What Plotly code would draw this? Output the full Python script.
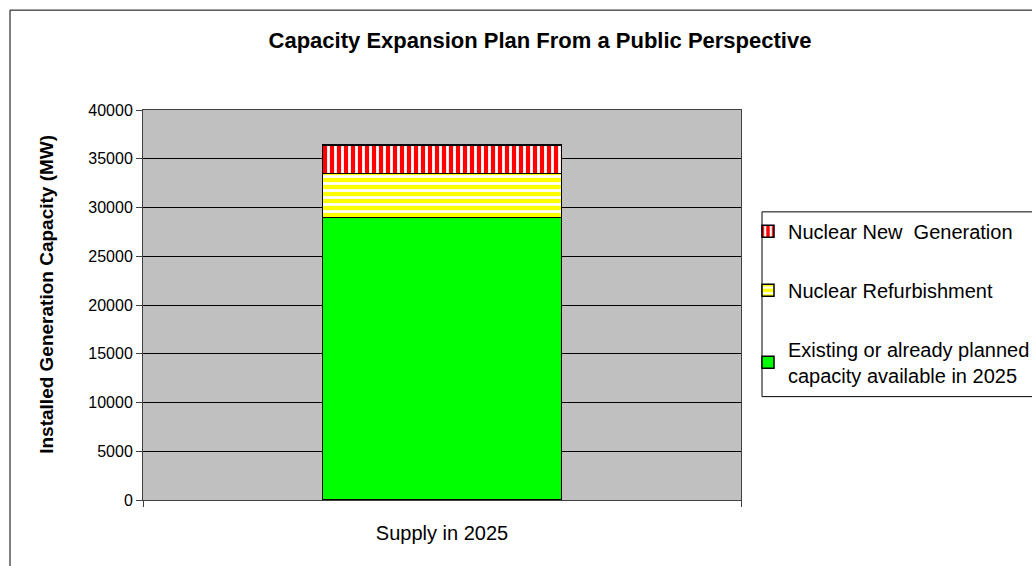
import plotly.graph_objects as go

categories = ["Supply in 2025"]
existing = [29000]
refurb = [4500]
new_gen = [2900]
series_names = ["Existing or already planned<br>capacity available in 2025",
                "Nuclear Refurbishment",
                "Nuclear New  Generation"]
y_ticks = [0, 5000, 10000, 15000, 20000, 25000, 30000, 35000, 40000]

FONT = "Liberation Sans, Arial, sans-serif"

fig = go.Figure()
fig.add_trace(go.Bar(
    x=categories, y=existing, name=series_names[0], legendgroup="a",
    legendrank=3,
    marker=dict(color="#00FF00", line=dict(color="black", width=1.5)),
    width=0.4,
))
fig.add_trace(go.Bar(
    x=categories, y=refurb, name=series_names[1], legendgroup="b",
    legendrank=2,
    marker=dict(color="#FFFF00", line=dict(color="black", width=1.5),
                pattern=dict(shape="-", fgcolor="white", bgcolor="#FFFF00",
                             size=7, solidity=0.4, fillmode="replace")),
    width=0.4,
))
fig.add_trace(go.Bar(
    x=categories, y=new_gen, name=series_names[2], legendgroup="c",
    legendrank=1,
    marker=dict(color="#FF0000", line=dict(color="black", width=1.5),
                pattern=dict(shape="|", fgcolor="white", bgcolor="#FF0000",
                             size=7, solidity=0.4, fillmode="replace")),
    width=0.4,
))

W, H = 1032, 566
L, R, T, B = 143, 741, 110, 500.5

def px_x(p):
    return (p - L) / (R - L)

def px_y(p):
    return (B - p) / (B - T)

fig.update_layout(
    width=W, height=H,
    barmode="stack",
    paper_bgcolor="white",
    plot_bgcolor="#C0C0C0",
    margin=dict(l=L, r=W - R, t=T, b=H - B, autoexpand=False),
    font=dict(family=FONT, size=16, color="black"),
    title=dict(text="<b>Capacity Expansion Plan From a Public Perspective</b>",
               x=540 / W, xref="container", xanchor="center",
               y=1 - 40 / H, yref="container", yanchor="middle",
               font=dict(family=FONT, size=22, color="black")),
    legend=dict(x=px_x(748), y=px_y(212), xanchor="left", yanchor="top",
                traceorder="grouped", tracegroupgap=30,
                bgcolor="rgba(0,0,0,0)", borderwidth=0,
                font=dict(family=FONT, size=20, color="black"),
                itemwidth=30),
    showlegend=True,
)

fig.update_xaxes(
    type="category",
    showline=True, linecolor="#404040", linewidth=1, mirror=True,
    ticks="outside", ticklen=6, tickcolor="#404040", tickson="boundaries",
    showgrid=False,
    ticklabelstandoff=15,
    tickfont=dict(family=FONT, size=20),
)
fig.update_yaxes(
    range=[0, 40000],
    tickvals=y_ticks,
    ticktext=[str(v) for v in y_ticks],
    showline=True, linecolor="#404040", linewidth=1, mirror=True,
    ticks="outside", ticklen=6, tickcolor="#404040",
    showgrid=True, gridcolor="black", gridwidth=1,
    zeroline=False,
    tickfont=dict(family=FONT, size=16),
)

# y-axis title
fig.add_annotation(text="<b>Installed Generation Capacity (MW)</b>",
                   xref="paper", yref="paper", x=px_x(47), y=px_y(295),
                   xanchor="center", yanchor="middle", textangle=-90,
                   showarrow=False, font=dict(family=FONT, size=19, color="black"))

# legend frame
fig.add_shape(type="rect", xref="paper", yref="paper",
              x0=px_x(762), x1=px_x(W + 20), y0=px_y(397), y1=px_y(212),
              line=dict(color="black", width=1), fillcolor="white",
              layer="below")

# outer chart frame
fig.add_shape(type="rect", xref="paper", yref="paper",
              x0=px_x(10), x1=px_x(W + 20), y0=px_y(H + 20), y1=px_y(10),
              line=dict(color="black", width=1), fillcolor="rgba(0,0,0,0)",
              layer="below")

fig.write_html("out.html")
